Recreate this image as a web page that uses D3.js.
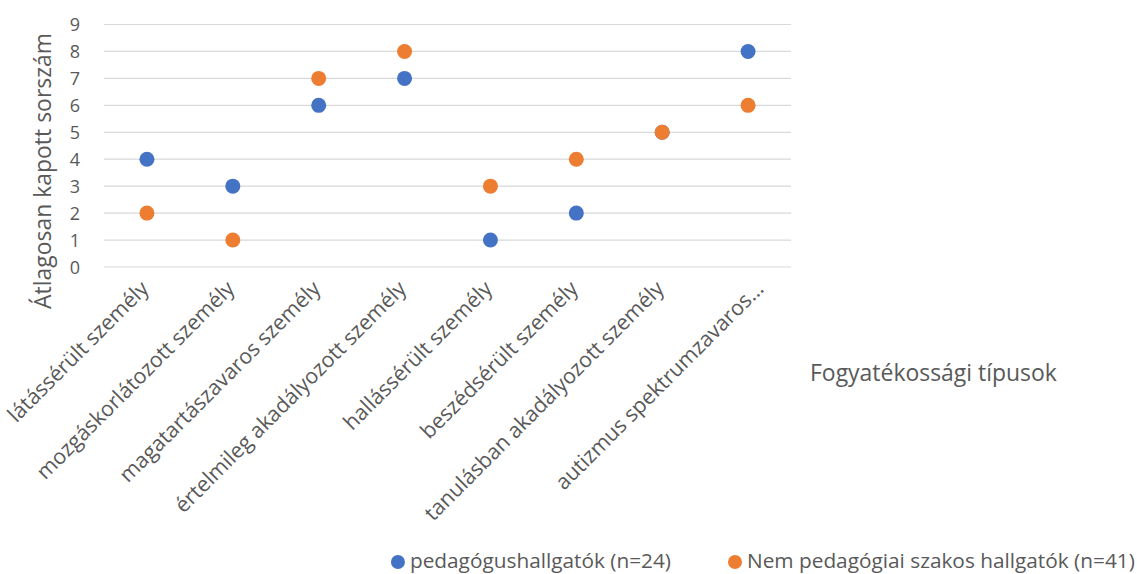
<!DOCTYPE html>
<html>
<head>
<meta charset="utf-8">
<script src="https://cdn.jsdelivr.net/npm/d3@7"></script>
<style>
  html, body { margin: 0; padding: 0; background: #fff; }
  svg { display: block; }
  text { font-family: "Open Sans", Lato, sans-serif; fill: #595959; }
</style>
</head>
<body>
<svg id="chart" width="1137" height="574"></svg>
<script>
// Disability types (x categories)
const categories = [
  "látássérült személy",
  "mozgáskorlátozott személy",
  "magatartászavaros személy",
  "értelmileg akadályozott személy",
  "hallássérült személy",
  "beszédsérült személy",
  "tanulásban akadályozott személy",
  "autizmus spektrumzavaros..."
];
// Average rank per group
const pedagogus = [4, 3, 6, 7, 1, 2, 5, 8];
const nemPedagogus = [2, 1, 7, 8, 3, 4, 5, 6];
const yTicks = [0, 1, 2, 3, 4, 5, 6, 7, 8, 9];
const seriesNames = ["pedagógushallgatók (n=24)", "Nem pedagógiai szakos hallgatók (n=41)"];
const colors = ["#4472C4", "#ED7D31"];

const FONT = "'Open Sans', Lato, sans-serif";
const svg = d3.select("#chart");
const plotLeft = 104, plotRight = 791, plotTop = 24.5, plotBottom = 267;

const x = d3.scaleBand().domain(categories).range([plotLeft, plotRight]);
const y = d3.scaleLinear().domain([0, 9]).range([plotBottom, plotTop]);

// scale a text's font size so that its rendered width equals `width`
function fitWidth(sel, width) {
  const len = sel.node().getComputedTextLength();
  const fs = parseFloat(sel.attr("font-size"));
  return fs * width / len;
}

// Gridlines
svg.append("g").selectAll("line").data(yTicks).join("line")
  .attr("x1", plotLeft).attr("x2", plotRight)
  .attr("y1", d => y(d)).attr("y2", d => y(d))
  .attr("stroke", "#d9d9d9").attr("stroke-width", 1.2);

// Y axis tick labels
const yAxis = d3.axisLeft(y).tickValues(yTicks).tickSize(0).tickPadding(0);
const yg = svg.append("g").attr("transform", "translate(80,0)").call(yAxis);
yg.select(".domain").remove();
yg.selectAll("text").attr("font-size", 18).attr("fill", "#595959")
  .attr("font-family", FONT)
  .attr("text-anchor", "end").attr("dy", "0.36em");

// X axis category labels, rotated
const xAxis = d3.axisBottom(x).tickSize(0).tickPadding(0);
const xg = svg.append("g").call(xAxis);
xg.select(".domain").remove();
const labels = xg.selectAll("text")
  .attr("font-size", 20).attr("fill", "#595959")
  .attr("font-family", FONT)
  .attr("text-anchor", "end")
  .attr("dy", 0).attr("y", 0).attr("x", 0);
const longest = labels.filter(d => d === categories[3]);
const labelSize = fitWidth(longest, 317);
labels.attr("font-size", labelSize);
xg.selectAll(".tick").attr("transform", d => {
  const shift = d.endsWith("...") ? 14 : 0;
  return `translate(${x(d) + x.bandwidth() / 2 + 3 + shift},${plotBottom + 23}) rotate(-45)`;
});

// Y axis title
const yTitle = svg.append("text")
  .attr("text-anchor", "middle")
  .attr("font-size", 22)
  .attr("font-family", FONT)
  .text("Átlagosan kapott sorszám");
yTitle.attr("font-size", fitWidth(yTitle, 276))
  .attr("transform", "translate(51,171) rotate(-90)");

// X axis title
const xTitle = svg.append("text")
  .attr("x", 810).attr("y", 381)
  .attr("font-size", 20)
  .attr("font-family", FONT)
  .text("Fogyatékossági típusok");
xTitle.attr("font-size", fitWidth(xTitle, 247));

// Points
const series = [pedagogus, nemPedagogus];
series.forEach((vals, i) => {
  svg.append("g").selectAll("circle").data(vals).join("circle")
    .attr("cx", (d, j) => x(categories[j]) + x.bandwidth() / 2)
    .attr("cy", d => y(d))
    .attr("r", 7.5)
    .attr("fill", colors[i]);
});

// Legend
const legend = svg.append("g");
const items = legend.selectAll("g").data(seriesNames).join("g");
items.append("circle").attr("r", 7).attr("cy", 562).attr("fill", (d, i) => colors[i]);
const legendTexts = items.append("text").attr("y", 568)
  .attr("font-size", 20).attr("font-family", FONT).text(d => d);
const legendSize = fitWidth(legendTexts.filter((d, i) => i === 1), 388);
legendTexts.attr("font-size", legendSize);
const blueLen = legendTexts.filter((d, i) => i === 0).node().getComputedTextLength();
const textStart = [671 - blueLen, 747];
legendTexts.attr("x", (d, i) => textStart[i]);
items.select("circle").attr("cx", (d, i) => textStart[i] - 12);
</script>
</body>
</html>
